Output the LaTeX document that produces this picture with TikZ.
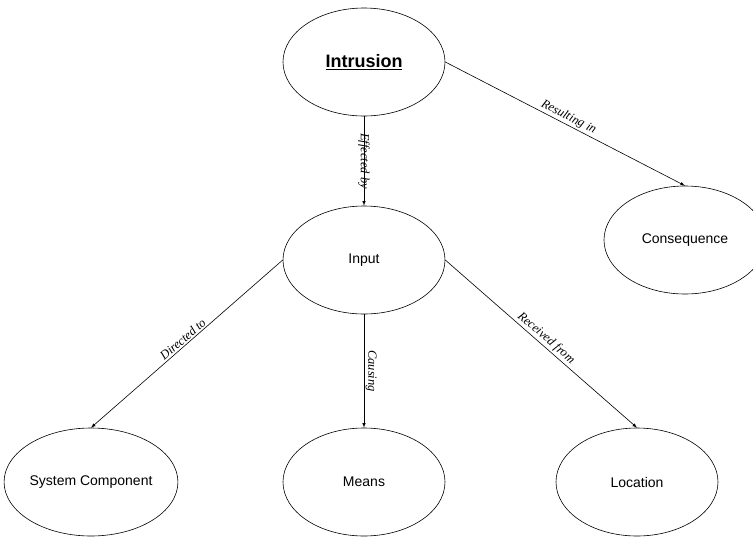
\documentclass[tikz,border=0pt]{standalone}
\usepackage{fontspec}
\setmainfont{Liberation Sans}
\newfontfamily\relfont{Liberation Serif}
\usepackage{tikz}
\usetikzlibrary{shapes.geometric}

\begin{document}
\begin{tikzpicture}[x=1pt,y=-1pt,semithick,>=latex,
    concept/.style={draw,ellipse,minimum width=162pt,minimum height=108pt,inner sep=0pt,font=\fontsize{14}{16}\selectfont},
    rel/.style={font=\relfont\itshape\fontsize{12.5}{14}\selectfont,inner sep=1.5pt}]
          \useasboundingbox (0,0) rectangle (753,536);
          \node[concept,font=\bfseries\fontsize{18}{20}\selectfont] (intr) at (364,62) {\underline{Intrusion}};
          \node[concept] (in) at (364,260) {Input};
          \node[concept] (cons) at (685,240) {Consequence};
          \node[concept] (sys) at (91,482) {System Component};
          \node[concept] (mean) at (364,482) {Means};
          \node[concept] (loc) at (637,482) {Location};
          \draw[->] (intr) -- node[rel,rotate=-90]{Effected by} (in);
          \draw[->] (intr.east) -- node[rel,sloped,above]{Resulting in} (cons.north);
          \draw[->] (in.west) -- node[rel,sloped,above]{Directed to} (sys.north);
          \draw[->] (in) -- node[rel,rotate=-90,above]{Causing} (mean);
          \draw[->] (in.east) -- node[rel,sloped,above]{Received from} (loc.north);
        \end{tikzpicture}
\end{document}
